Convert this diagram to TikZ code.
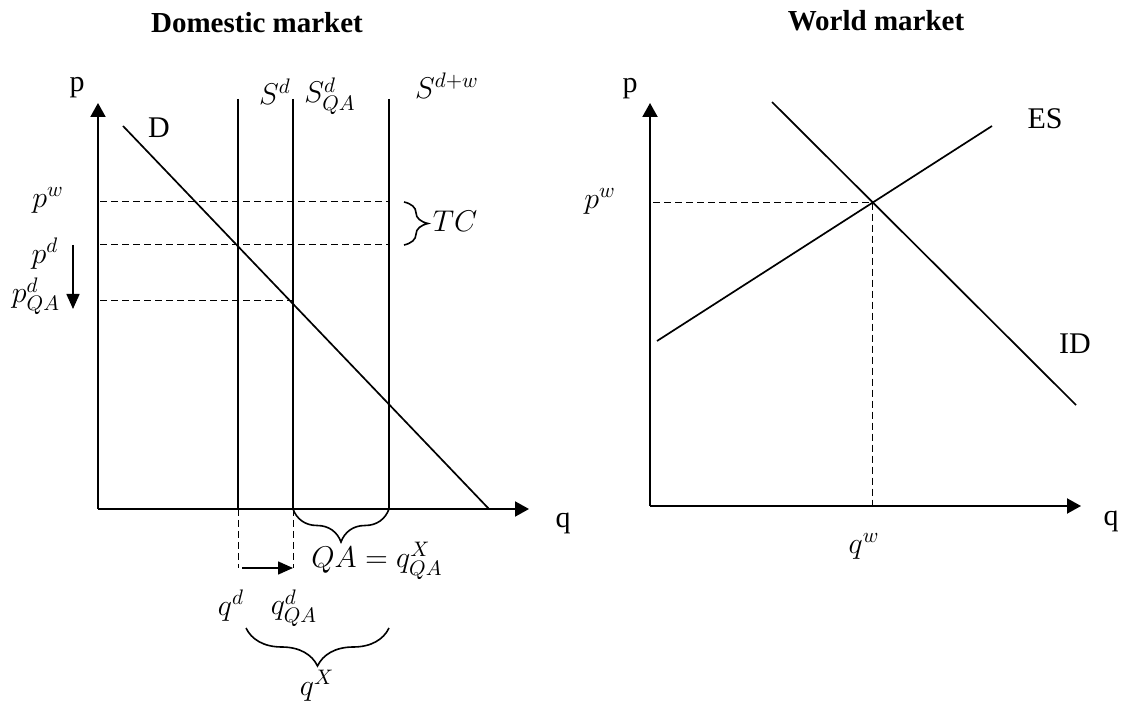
\RequirePackage{fix-cm}
\documentclass[tikz,border=0pt]{standalone}
\usepackage{fontspec}
\setmainfont{Liberation Serif}
\usepackage{tikz}
\usetikzlibrary{arrows.meta,decorations.pathreplacing}

\begin{document}
\begin{tikzpicture}[
  x=0.5pt, y=-0.5pt,
  font=\fontsize{15}{18}\selectfont,
  heading/.style={font=\fontsize{14.5}{17}\selectfont\bfseries, anchor=base},
  axis/.style={line width=1pt, -{Triangle[length=7pt,width=7.5pt]}},
  curve/.style={line width=0.85pt},
  guide/.style={line width=0.5pt, dash pattern=on 3.5pt off 2pt},
  shiftarrow/.style={line width=0.8pt, -{Triangle[length=7.5pt,width=6.5pt]}},
  bracebox/.style={decorate, decoration={brace, amplitude=#1}, line width=0.8pt}
]
\useasboundingbox (0,0) rectangle (1128,704);

% domestic market
\node[heading] (domtitle) at (257,33) {Domestic market};
\coordinate (o1) at (98,509);
\coordinate (py1) at (98,103);
\coordinate (qx1) at (529,509);
\draw[axis] (o1) -- (py1);
\draw[axis] (o1) -- (qx1);
\node (plab1) at (77,88) {p};
\node (qlab1) at (563,523) {q};

\coordinate (dtop) at (123,126);
\coordinate (dbot) at (489,509);
\draw[curve] (dtop) -- (dbot);
\node (dlab) at (159,128) {D};

\foreach \name/\x in {sd/238, sqa/293, sdw/389}{
  \coordinate (\name-top) at (\x,99);
  \coordinate (\name-bot) at (\x,509);
  \draw[curve] (\name-top) -- (\name-bot);
}
\node (sdlab) at (275,92) {$S^d$};
\node (sqalab) at (330,96) {$S^d_{QA}$};
\node (sdwlab) at (447,86) {$S^{d+w}$};

% price levels
\coordinate (pw1) at (100,202);
\coordinate (pw2) at (389,202);
\coordinate (pd1) at (100,245);
\coordinate (pd2) at (389,245);
\coordinate (pqa1) at (100,301);
\coordinate (pqa2) at (293,301);
\draw[guide] (pw1) -- (pw2);
\draw[guide] (pd1) -- (pd2);
\draw[guide] (pqa1) -- (pqa2);
\node (pwlab1) at (48,200) {$p^w$};
\node (pdlab) at (45,254) {$p^d$};
\node (pqalab) at (36,296) {$p^d_{QA}$};

\coordinate (dn1) at (73,245);
\coordinate (dn2) at (73,309);
\draw[shiftarrow] (dn1) -- (dn2);

\coordinate (tc1) at (404,202);
\coordinate (tc2) at (404,245);
\draw[bracebox=12pt] (tc1) -- (tc2);
\node (tclab) at (455,221) {$TC$};

% quantities
\coordinate (qd) at (238,568);
\coordinate (qqa) at (293,568);
\draw[guide] (sd-bot) -- (qd);
\draw[guide] (sqa-bot) -- (qqa);
\draw[shiftarrow] ([xshift=2pt]qd) -- (qqa);
\node (qdlab) at (231,606) {$q^d$};
\node (qqalab) at (294,608) {$q^d_{QA}$};

\draw[bracebox=16.5pt] (sdw-bot) -- (sqa-bot);
\node (qalab) at (377,561) {$QA=q^X_{QA}$};

\coordinate (qxa) at (246,628);
\coordinate (qxb) at (389,628);
\draw[bracebox=19pt] (qxb) -- (qxa);
\node (qxlab) at (317,686) {$q^X$};

% world market
\node[heading] (wtitle) at (876,31) {World market};
\coordinate (o2) at (650,506);
\coordinate (py2) at (650,103);
\coordinate (qx2) at (1081,506);
\draw[axis] (o2) -- (py2);
\draw[axis] (o2) -- (qx2);
\node (plab2) at (630,89) {p};
\node (qlab2) at (1111,521) {q};

\coordinate (es1) at (657,341);
\coordinate (es2) at (992,126);
\coordinate (id1) at (772,102);
\coordinate (id2) at (1076,405);
\draw[curve] (es1) -- (es2);
\draw[curve] (id1) -- (id2);
\node (eslab) at (1045,119) {ES};
\node (idlab) at (1075,344) {ID};

\coordinate (eq) at (intersection of es1--es2 and id1--id2);
\draw[guide] ([xshift=1.5pt]o2 |- eq) -- (eq) -- (eq |- o2);
\node (pwlab2) at (600,201) {$p^w$};
\node (qwlab) at (864,546) {$q^w$};
\end{tikzpicture}
\end{document}
